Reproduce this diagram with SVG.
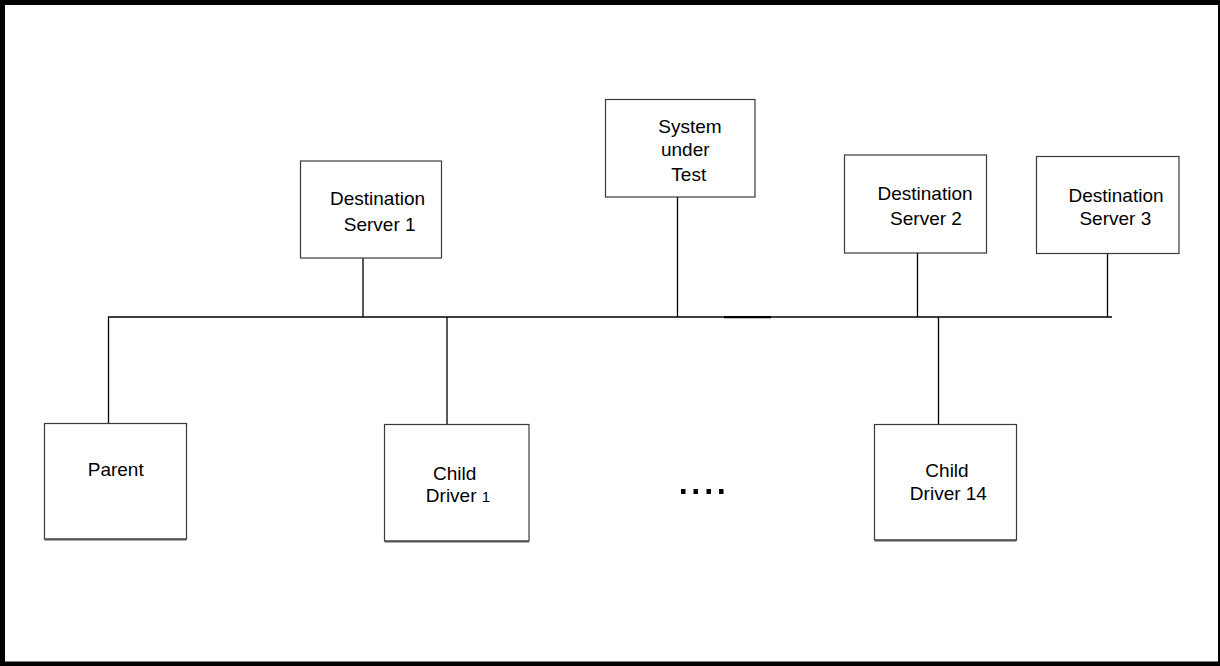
<svg xmlns="http://www.w3.org/2000/svg" width="1220" height="666" viewBox="0 0 1220 666">
<defs>
<style>
.box{fill:#fff;stroke:#3a3a3a;stroke-width:1.2}
.shadow{stroke:#555;stroke-width:2;fill:none}
.ln{stroke:#000;stroke-width:1.3;fill:none}
.t{font-family:"Liberation Sans",Arial,sans-serif;font-size:19px;fill:#000;text-anchor:middle}
</style>
</defs>
<rect x="2.5" y="2.5" width="1218" height="661.5" fill="#fff" stroke="#000" stroke-width="5"/>
<g id="connectors">
<line class="ln" x1="108" y1="317" x2="1112" y2="317"/>
<line x1="724" y1="317.2" x2="771" y2="317.2" stroke="#000" stroke-width="2.2"/>
<line class="ln" x1="363" y1="258" x2="363" y2="317"/>
<line class="ln" x1="677.5" y1="197" x2="677.5" y2="317"/>
<line class="ln" x1="917.5" y1="253" x2="917.5" y2="317"/>
<line class="ln" x1="1107.5" y1="253" x2="1107.5" y2="317"/>
<line class="ln" x1="108.5" y1="317" x2="108.5" y2="424"/>
<line class="ln" x1="447" y1="317" x2="447" y2="425"/>
<line class="ln" x1="938.5" y1="317" x2="938.5" y2="425"/>
</g>
<g id="ds1">
<rect class="box" x="300.5" y="161" width="141" height="97"/>
<text class="t" x="377.5" y="205">Destination</text>
<text class="t" x="379.7" y="231">Server 1</text>
</g>
<g id="sut">
<rect class="box" x="605.5" y="99.5" width="149.5" height="97.5"/>
<text class="t" x="690" y="133">System</text>
<text class="t" x="685.3" y="156">under</text>
<text class="t" x="688.8" y="181">Test</text>
</g>
<g id="ds2">
<rect class="box" x="844.5" y="155" width="142" height="98"/>
<text class="t" x="925" y="200">Destination</text>
<text class="t" x="926" y="225">Server 2</text>
</g>
<g id="ds3">
<rect class="box" x="1036.5" y="156.5" width="142.5" height="97"/>
<text class="t" x="1116" y="201.5">Destination</text>
<text class="t" x="1115.3" y="224.5">Server 3</text>
</g>
<g id="parent">
<rect class="box" x="44.5" y="423.5" width="142" height="115.5"/>
<line class="shadow" x1="44.5" y1="539.5" x2="186.5" y2="539.5"/>
<text class="t" x="115.7" y="476">Parent</text>
</g>
<g id="child1">
<rect class="box" x="384.5" y="424.5" width="144.5" height="116.5"/>
<line class="shadow" x1="384.5" y1="541.5" x2="529" y2="541.5"/>
<text class="t" x="454.7" y="480">Child</text>
<text class="t" x="458" y="502">Driver <tspan font-size="15">1</tspan></text>
</g>
<g id="dots">
<rect x="681" y="489" width="4.5" height="5"/>
<rect x="693.5" y="489" width="4.5" height="5"/>
<rect x="706.5" y="489" width="4.5" height="5"/>
<rect x="719" y="489" width="4.5" height="5"/>
</g>
<g id="child14">
<rect class="box" x="874.5" y="424.5" width="142" height="115.5"/>
<line class="shadow" x1="874.5" y1="540.5" x2="1016.5" y2="540.5"/>
<text class="t" x="947" y="476.5">Child</text>
<text class="t" x="948.4" y="500">Driver 14</text>
</g>
</svg>
